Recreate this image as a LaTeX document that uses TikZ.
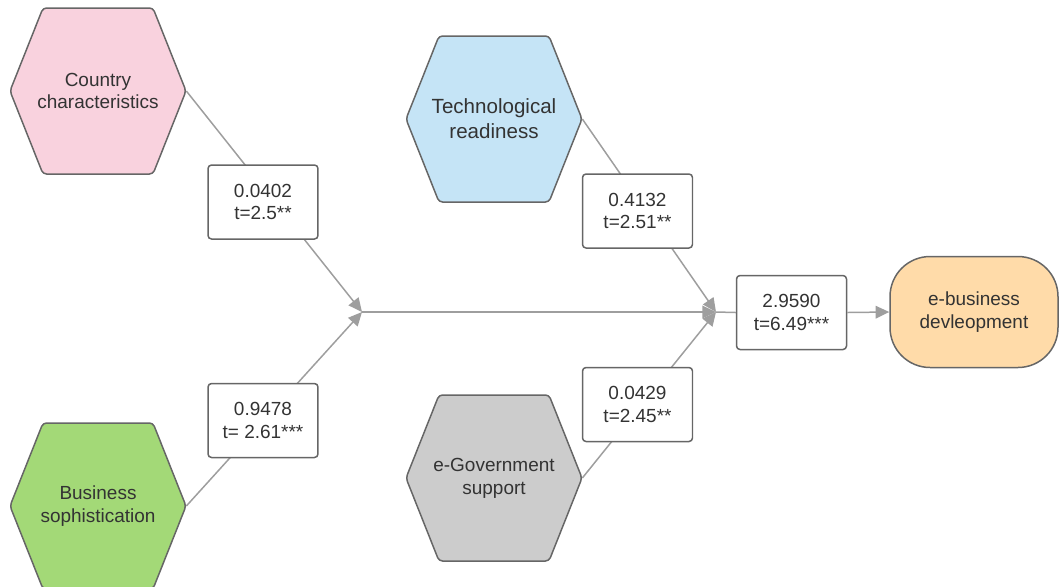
\documentclass[tikz,border=0pt]{standalone}
\usepackage{fontspec}
\setmainfont{Liberation Sans}
\usetikzlibrary{arrows.meta}

\definecolor{pinkfill}{HTML}{F9D2DE}
\definecolor{bluefill}{HTML}{C5E4F6}
\definecolor{greenfill}{HTML}{A3D977}
\definecolor{grayfill}{HTML}{CCCCCC}
\definecolor{orangefill}{HTML}{FFDBA9}
\definecolor{bordergray}{HTML}{666666}
\definecolor{linegray}{HTML}{9E9E9E}
\definecolor{textgray}{HTML}{333333}

\begin{document}
\begin{tikzpicture}[x=.02cm, y=-.02cm,
  hexa/.style={minimum width=3.52cm, minimum height=3.34cm, inner sep=0pt,
    text=textgray, align=center, font=\fontsize{10.8}{13}\selectfont},
  hexline/.style={draw=bordergray, line width=.85pt, rounded corners=2pt},
  valbox/.style={draw=bordergray, fill=white, line width=.85pt, rounded corners=2pt,
    minimum width=2.2cm, minimum height=1.48cm, inner sep=0pt,
    text=textgray, align=center, font=\fontsize{10.8}{13}\selectfont},
  link/.style={draw=linegray, line width=.85pt},
  tip/.style={-{Triangle[length=7.8pt,width=7.2pt]}}]

\useasboundingbox (0,0) rectangle (1060,586);

% hexagon outlines
\foreach \cx/\cy/\col in {98/91/pinkfill, 98/506/greenfill, 494/119/bluefill, 494/478/grayfill}
  \draw[hexline, fill=\col] (\cx-88,\cy) -- (\cx-55,\cy-83) -- (\cx+55,\cy-83)
    -- (\cx+88,\cy) -- (\cx+55,\cy+83) -- (\cx-55,\cy+83) -- cycle;

% factors
\node[hexa] (country) at (98,91) {Country\\characteristics};
\node[hexa] (business) at (98,506) {Business\\sophistication};
\node[hexa, font=\fontsize{11.7}{14.2}\selectfont] (tech) at (494,119) {Technological\\readiness};
\node[hexa] (egov) at (494,478) {e-Government\\support};

% outcome
\node[draw=bordergray, fill=orangefill, line width=.85pt, rounded corners=.8cm,
  minimum width=3.36cm, minimum height=2.22cm, text=textgray, align=center,
  font=\fontsize{10.8}{13}\selectfont] (ebiz) at (974,312) {e-business\\devleopment};

\node[valbox] (total) at (791.5,312.5) {2.9590\\t=6.49***};

\coordinate (j1) at (362,312);
\coordinate (j2) at (716,312);

\draw[link,tip] (country.east) -- (j1);
\draw[link,tip] (business.east) -- (j1);
\draw[link,tip] (j1) -- (j2);
\draw[link,tip] (tech.east) -- (j2);
\draw[link,tip] (egov.east) -- (j2);
\draw[link] (j2) -- (total.west);
\draw[link,tip] (total.east) -- (ebiz.west);

% path coefficients
\node[valbox] (cc) at (263,202) {0.0402\\t=2.5**};
\node[valbox] (bs) at (263,420.5) {0.9478\\t= 2.61***};
\node[valbox] (tr) at (637.5,211) {0.4132\\t=2.51**};
\node[valbox] (gs) at (637.5,404.5) {0.0429\\t=2.45**};
\end{tikzpicture}
\end{document}
